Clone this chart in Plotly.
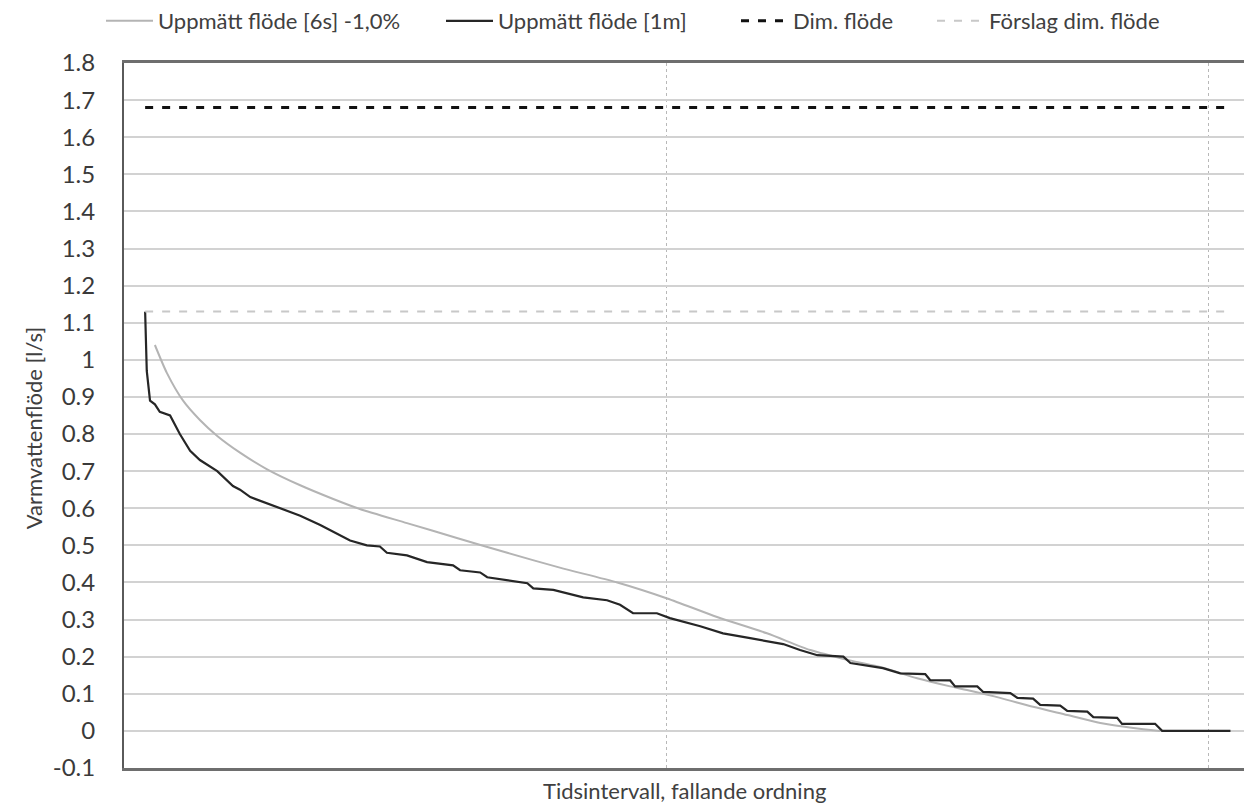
import plotly.graph_objects as go

# ---- data ----
x_1m = [39, 42, 48, 57, 66, 85, 103, 122, 140, 172, 201, 214, 233, 288, 325, 362, 417, 448, 472,
        485, 522, 559, 607, 620, 657, 670, 707, 744, 755, 792, 847, 891, 915, 939, 983, 1007,
        1063, 1105, 1155, 1216, 1247, 1279, 1327, 1340, 1400, 1432, 1478, 1487, 1524, 1533,
        1574, 1585, 1635, 1648, 1677, 1690, 1727, 1740, 1777, 1788, 1832, 1841, 1902, 1915, 2041]
y_1m = [1.13, 0.97, 0.89, 0.88, 0.86, 0.85, 0.80, 0.755, 0.73, 0.70, 0.66, 0.65, 0.63, 0.60, 0.58,
        0.555, 0.513, 0.50, 0.497, 0.48, 0.473, 0.455, 0.446, 0.433, 0.427, 0.414, 0.406, 0.398,
        0.384, 0.38, 0.36, 0.352, 0.34, 0.317, 0.317, 0.304, 0.282, 0.263, 0.25, 0.234, 0.218,
        0.204, 0.20, 0.183, 0.169, 0.155, 0.153, 0.137, 0.136, 0.12, 0.12, 0.105, 0.102, 0.089,
        0.087, 0.07, 0.068, 0.054, 0.052, 0.037, 0.035, 0.019, 0.019, 0.0, 0.0]

x_6s = [57, 79, 109, 140, 172, 214, 264, 325, 386, 435, 522, 614, 707, 804, 910, 1002, 1094,
        1186, 1266, 1339, 1400, 1463, 1524, 1555, 1616, 1677, 1740, 1801, 1862, 1911]
y_6s = [1.04, 0.965, 0.89, 0.838, 0.795, 0.75, 0.705, 0.662, 0.625, 0.598, 0.56, 0.52, 0.48, 0.44,
        0.40, 0.357, 0.307, 0.263, 0.218, 0.19, 0.17, 0.142, 0.12, 0.11, 0.089, 0.065, 0.043,
        0.0215, 0.008, 0.0]

x_dim = [39, 2044]
dim_flode = [1.68, 1.68]
forslag_flode = [1.13, 1.13]

y_tickvals = [-0.1, 0, 0.1, 0.2, 0.3, 0.4, 0.5, 0.6, 0.7, 0.8, 0.9, 1.0,
              1.1, 1.2, 1.3, 1.4, 1.5, 1.6, 1.7, 1.8]
y_ticktext = ["-0.1", "0", "0.1", "0.2", "0.3", "0.4", "0.5", "0.6", "0.7", "0.8", "0.9", "1",
              "1.1", "1.2", "1.3", "1.4", "1.5", "1.6", "1.7", "1.8"]

FONT = "Lato, 'Open Sans', sans-serif"

fig = go.Figure()
fig.add_trace(go.Scatter(x=x_6s, y=y_6s, mode="lines", name="Uppmätt flöde [6s] -1,0%",
                         line=dict(color="#b4b4b4", width=2, shape="spline", smoothing=0.7),
                         legend="legend"))
fig.add_trace(go.Scatter(x=x_1m, y=y_1m, mode="lines", name="Uppmätt flöde [1m]",
                         line=dict(color="#262626", width=2.2), legend="legend2"))
fig.add_trace(go.Scatter(x=x_dim, y=dim_flode, mode="lines", name="Dim. flöde",
                         line=dict(color="#111111", width=3, dash="8px,9px"), legend="legend3"))
fig.add_trace(go.Scatter(x=x_dim, y=forslag_flode, mode="lines", name="Förslag dim. flöde",
                         line=dict(color="#c8c8c8", width=2, dash="8px,9px"), legend="legend4"))


def leg(xpx):
    return dict(orientation="h", xref="container", yref="container",
                x=xpx / 1244, xanchor="left", y=1.0, yanchor="top",
                font=dict(size=22, color="#404040"), itemwidth=47,
                bgcolor="rgba(0,0,0,0)")


fig.update_layout(
    width=1244, height=806,
    margin=dict(l=124, r=0, t=63, b=38),
    paper_bgcolor="white", plot_bgcolor="white",
    font=dict(family=FONT, size=22, color="#404040"),
    showlegend=True,
    legend=leg(101), legend2=leg(441), legend3=leg(736), legend4=leg(932),
    xaxis=dict(range=[0, 2066], tick0=0, dtick=1000, showticklabels=False,
               showgrid=True, gridcolor="#b8b8b8", griddash="dot", gridwidth=1,
               zeroline=False, showline=True, linecolor="#6e6e6e", linewidth=3,
               mirror=True, ticks=""),
    yaxis=dict(range=[-0.1, 1.8], tickvals=y_tickvals, ticktext=y_ticktext,
               showgrid=True, gridcolor="#d2d2d2", gridwidth=1.5,
               zeroline=False, showline=True, linecolor="#5a5a5a", linewidth=2,
               ticks="", ticklabelstandoff=22,
               tickfont=dict(size=24, color="#3a3a3a")),
    annotations=[
        dict(text="Tidsintervall, fallande ordning", xref="paper", yref="paper",
             x=0.5, y=0, yshift=-22, xanchor="center", yanchor="middle",
             showarrow=False, font=dict(size=22, color="#404040")),
        dict(text="Varmvattenflöde [l/s]", xref="paper", yref="paper", textangle=-90,
             x=0, xshift=-91, y=0.482, xanchor="center", yanchor="middle",
             showarrow=False, font=dict(size=22, color="#404040")),
    ],
)

fig.write_html("out.html")
